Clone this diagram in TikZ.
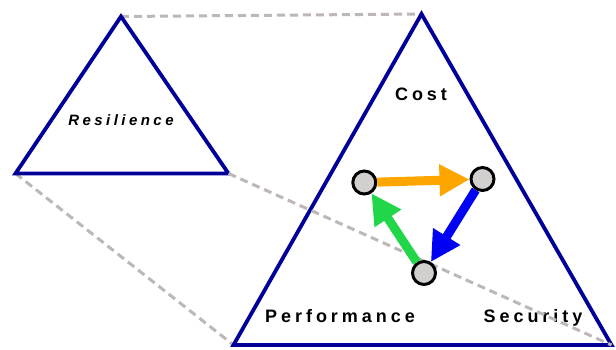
\documentclass[tikz,border=0pt]{standalone}
\usepackage{fontspec}
\setmainfont{Liberation Sans}
\usetikzlibrary{arrows.meta}
\definecolor{triblue}{HTML}{000099}
\definecolor{dashgray}{HTML}{BDB7B7}
\definecolor{nodegray}{HTML}{D4CFCF}
\definecolor{arrorange}{HTML}{FFA500}
\definecolor{arrblue}{HTML}{0000F5}
\definecolor{arrgreen}{HTML}{22D64A}
\begin{document}
\begin{tikzpicture}[x=1pt,y=-1pt,
  tri/.style={draw=triblue,line width=3.8pt,line join=miter},
  guide/.style={draw=dashgray,line width=3pt,dash pattern=on 8pt off 5pt},
  state/.style={circle,draw=black,line width=3pt,fill=nodegray,minimum size=23pt,inner sep=0pt},
  flow/.style={line width=9pt,-{Triangle[length=30pt,width=30pt]}},
  lbl/.style={font=\fontsize{18}{20}\selectfont\bfseries\addfontfeature{LetterSpace=22},inner sep=0pt,anchor=base},
  ilbl/.style={font=\fontsize{15}{17}\selectfont\bfseries\itshape\addfontfeature{LetterSpace=23},inner sep=0pt,anchor=base},
]
\useasboundingbox (0,0) rectangle (616,349);
% triangle vertices
\coordinate (sT) at (121,16.5);
\coordinate (sL) at (15.5,173.5);
\coordinate (sR) at (228.5,173.5);
\coordinate (bT) at (421.5,14);
\coordinate (bL) at (233.5,345);
\coordinate (bR) at (611.5,345);
% dashed guides
\draw[guide] (sT) -- (bT);
\draw[guide] (sL) -- (bL);
% triangles
\draw[tri] (sT) -- (sL) -- (sR) -- cycle;
\draw[tri] (bT) -- (bL) -- (bR) -- cycle;
% labels
\node[ilbl] (res) at (121,125.3) {Resilience};
\node[lbl] (cost) at (421,100) {Cost};
\node[lbl] (perf) at (340,322.5) {Performance};
\node[lbl] (sec) at (533,322) {Security};
\draw[guide] (sR) -- (bR);
% states
\node[state] (a) at (364.3,182.5) {};
\node[state] (b) at (482.5,179) {};
\node[state] (c) at (424,273) {};
\draw[flow,arrorange] (a) -- (b);
\draw[flow,arrblue] (b) -- (c);
\draw[flow,arrgreen] (c) -- (a);
\end{tikzpicture}
\end{document}
